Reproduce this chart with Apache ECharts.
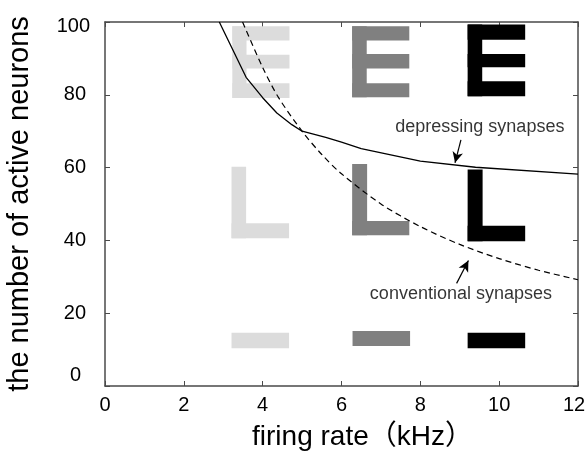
<!DOCTYPE html>
<html><head><meta charset="utf-8">
<script src="https://cdn.jsdelivr.net/npm/echarts@6/dist/echarts.min.js"></script>
<style>html,body{margin:0;padding:0;background:#fff}#c{width:586px;height:454px}</style>
</head><body><div id="c"></div>
<script>
// ---- data ----
const xTicks = [0, 2, 4, 6, 8, 10, 12];
const yTicks = [0, 20, 40, 60, 80, 100];
// depressing synapses (solid)
const depressing = [[2.9,100],[3.58,84.8],[4.0,79.2],[4.36,75.0],[4.74,71.8],[5.0,70.0],[5.6,68.3],[6.0,67.0],[6.5,65.2],[8.0,61.8],[9.4,60.1],[12,58.2]];
// conventional synapses (dashed)
const conventional = [[3.49,100],[4.0,87.5],[4.4,79.3],[5.0,70.0],[5.5,63.6],[6.0,58.3],[7.0,50.0],[8.0,43.8],[9.0,38.9],[10.0,35.0],[11.0,31.8],[12.0,29.2]];
// letter strokes: [x0, x1, y0, y1, shade]  (shade 0 light, 1 mid, 2 dark)
const letterRects = [
  // E
  [3.23,3.59,79.1,98.8,0],[3.23,4.68,94.9,98.8,0],[3.23,4.68,87.2,91.0,0],[3.23,4.68,79.1,83.2,0],
  [6.27,6.64,79.3,98.8,1],[6.27,7.72,94.9,98.8,1],[6.27,7.72,87.2,91.2,1],[6.27,7.72,79.3,83.2,1],
  [9.20,9.57,79.6,99.3,2],[9.20,10.66,95.1,99.3,2],[9.20,10.66,87.6,91.2,2],[9.20,10.66,79.6,83.7,2],
  // L
  [3.21,3.58,40.6,60.2,0],[3.21,4.67,40.6,44.7,0],
  [6.27,6.65,41.4,61.0,1],[6.27,7.72,41.4,45.3,1],
  [9.20,9.58,39.8,59.5,2],[9.20,10.66,39.8,44.0,2],
  // dash
  [3.21,4.67,10.4,14.6,0],[6.28,7.74,11.0,15.1,1],[9.20,10.66,10.4,14.6,2]
];
const labels = [
  {name:'depressing synapses', value:[9.51,71.2]},
  {name:'conventional synapses', value:[9.03,25.2]}
];
const arrows = [
  [[9.03,67.6],[8.88,61.3]],
  [[8.92,28.2],[9.22,34.5]]
];
// ---- chart ----
const shadeColors = ['#dcdcdc','#808080','#000000'];
const FONT = '"Liberation Sans", Arial, "Noto Sans CJK JP", sans-serif';
const chart = echarts.init(document.getElementById('c'), null, {renderer:'canvas'});
const frame = {onZero:false, lineStyle:{color:'#4a4a4a', width:1.5}};
const tick = {inside:true, length:5, lineStyle:{color:'#4a4a4a', width:1}};
const yLabelRich = {
  n:{fontSize:20, fontFamily:FONT, color:'#000', padding:[0,4,0,0]},
  z:{fontSize:20, fontFamily:FONT, color:'#000', padding:[0,9,22,0]},
  t:{fontSize:20, fontFamily:FONT, color:'#000', padding:[8,0,0,0]}
};
const xLabelRich = {
  n:{fontSize:20, fontFamily:FONT, color:'#000'},
  e:{fontSize:20, fontFamily:FONT, color:'#000', padding:[0,8,0,0]}
};
chart.setOption({
  animation:false,
  backgroundColor:'#fff',
  grid:{left:105, right:8, top:22, bottom:68, containLabel:false, outerBoundsMode:'none'},
  xAxis:[{
    type:'value', min:xTicks[0], max:xTicks[xTicks.length-1], interval:2,
    axisLine:frame, splitLine:{show:false}, axisTick:tick,
    axisLabel:{margin:9, rich:xLabelRich,
      formatter:v => v===12 ? '{e|'+v+'}' : '{n|'+v+'}'},
    name:'firing rate（kHz）', nameLocation:'middle', nameGap:37,
    nameTextStyle:{fontSize:28, fontFamily:FONT, color:'#000', padding:[0,0,0,42]}
  },{
    type:'value', position:'top', min:0, max:12, interval:2,
    axisLine:frame, splitLine:{show:false}, axisLabel:{show:false}, axisTick:tick
  }],
  yAxis:[{
    type:'value', min:yTicks[0], max:yTicks[yTicks.length-1], interval:20,
    axisLine:frame, splitLine:{show:false}, axisTick:tick,
    axisLabel:{margin:15, rich:yLabelRich,
      formatter:v => v===0 ? '{z|'+v+'}' : (v===100 ? '{t|'+v+'}' : '{n|'+v+'}')},
    name:'the number of active neurons', nameLocation:'middle', nameGap:62, nameRotate:90,
    nameTextStyle:{fontSize:29, fontFamily:FONT, color:'#000', padding:[0,0,8,0]}
  },{
    type:'value', position:'right', min:0, max:100, interval:20,
    axisLine:frame, splitLine:{show:false}, axisLabel:{show:false}, axisTick:tick
  }],
  series:[
    {
      type:'custom', xAxisIndex:0, yAxisIndex:0, z:1, silent:true,
      data:letterRects,
      renderItem:(params, api) => {
        const p0 = api.coord([api.value(0), api.value(3)]);
        const p1 = api.coord([api.value(1), api.value(2)]);
        return {type:'rect', shape:{x:p0[0], y:p0[1], width:p1[0]-p0[0], height:p1[1]-p0[1]},
          style:{fill:shadeColors[api.value(4)]}};
      }
    },
    {
      type:'line', data:depressing, symbol:'none', z:3, clip:true,
      lineStyle:{color:'#000', width:1.3}
    },
    {
      type:'line', data:conventional, symbol:'none', smooth:0.3, z:3, clip:true,
      lineStyle:{color:'#000', width:1.2, type:[6,4]}
    },
    {
      type:'scatter', data:labels, symbolSize:0, z:4, silent:true,
      label:{show:true, position:'inside', formatter:p=>p.name, fontSize:18, fontFamily:FONT, color:'#000'},
      markLine:{
        silent:true, symbol:['none','arrow'], symbolSize:[8,11],
        lineStyle:{color:'#000', width:1.2, type:'solid'},
        itemStyle:{color:'#000'},
        label:{show:false},
        data:arrows.map(a => [{coord:a[0]},{coord:a[1]}])
      }
    }
  ]
});
</script></body></html>
